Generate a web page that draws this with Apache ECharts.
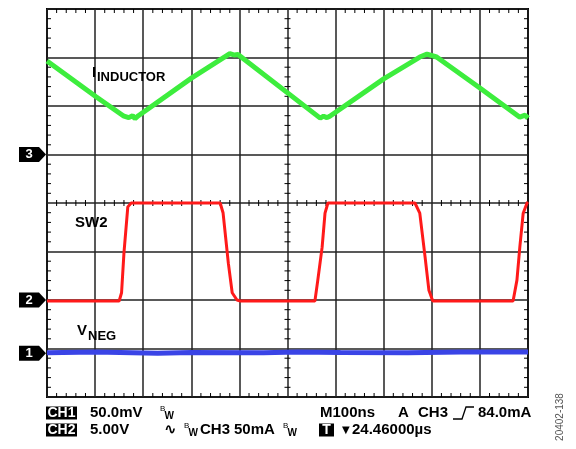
<!DOCTYPE html>
<html><head><meta charset="utf-8">
<script src="https://cdn.jsdelivr.net/npm/echarts@6/dist/echarts.min.js"></script>
<style>html,body{margin:0;padding:0;background:#fff}#c{width:576px;height:449px}</style>
</head><body><div id="c"></div>
<script>
// Time in divisions (M = 100 ns/div), level in divisions from bottom of screen
const xDivs = 10;
const yDivs = 8;
const minorPerDiv = 5;

const inductorT = [0, 1.02, 1.6, 1.7, 1.78, 1.83, 1.9, 3.01, 3.72, 3.8, 3.9, 3.97, 5.68, 5.75, 5.82, 5.88, 7.0, 7.75, 7.9, 8.1, 9.0, 9.83, 9.94, 10];
const inductorV = [6.93, 6.19, 5.79, 5.76, 5.8, 5.74, 5.8, 6.58, 7.03, 7.08, 7.05, 7.06, 5.75, 5.79, 5.76, 5.79, 6.56, 7.01, 7.07, 7.01, 6.37, 5.77, 5.81, 5.75];

const sw2T = [0, 1.5, 1.55, 1.6, 1.68, 1.75, 1.8, 3.6, 3.66, 3.77, 3.85, 3.95, 4.02, 5.57, 5.63, 5.72, 5.78, 5.84, 7.65, 7.75, 7.86, 7.94, 8.02, 9.69, 9.77, 9.83, 9.9, 9.98, 10];
const sw2V = [1.98, 1.98, 2.15, 2.97, 3.92, 4.0, 4.0, 4.0, 3.8, 2.76, 2.15, 2.0, 1.98, 1.98, 2.41, 3.09, 3.79, 4.0, 4.0, 3.79, 2.89, 2.2, 1.98, 1.98, 2.41, 3.09, 3.79, 4.0, 4.02];

const vnegT = [0, 1.0, 2.3, 3.0, 4.5, 5.2, 6.1, 7.5, 8.6, 10];
const vnegV = [0.91, 0.93, 0.9, 0.92, 0.91, 0.93, 0.92, 0.91, 0.93, 0.93];

const markerNames = ['1', '2', '3'];
const markerLevels = [0.9, 2, 5];

// Graticule lines carrying minor ticks: kind 0 = bottom, 1 = top, 2 = centre (crossing)
const hTickLines = [[0, 0], [yDivs, 1], [yDivs / 2, 2]];
const vTickLines = [[0, 0], [xDivs, 1], [xDivs / 2, 2]];

const FONT = '"Liberation Sans", Arial, sans-serif';
const chart = echarts.init(document.getElementById('c'), null, {renderer: 'canvas'});

function pairs(t, v) { return t.map((x, i) => [x, v[i]]); }

// tick items: [x, y, orientation(0 = vertical tick on horizontal line, 1 = horizontal tick), kind]
const tickData = [];
hTickLines.forEach(([yv, kind]) => {
  for (let i = 1; i < xDivs * minorPerDiv; i++) if (i % minorPerDiv) tickData.push([i / minorPerDiv, yv, 0, kind]);
});
vTickLines.forEach(([xv, kind]) => {
  for (let i = 1; i < yDivs * minorPerDiv; i++) if (i % minorPerDiv) tickData.push([xv, i / minorPerDiv, 1, kind]);
});

function renderTick(params, api) {
  const p = api.coord([api.value(0), api.value(1)]);
  const orient = api.value(2), kind = api.value(3);
  const ext = kind === 0 ? [-4, 0] : kind === 1 ? [0, 4] : [-3, 3];
  let shape;
  if (orient === 0) {
    // bottom line: ticks go up; top line: ticks go down
    const e = kind === 0 ? [-4, 0] : kind === 1 ? [0, 4] : [-3, 3];
    shape = {x1: p[0], y1: p[1] + e[0], x2: p[0], y2: p[1] + e[1]};
  } else {
    // left line: ticks go right; right line: ticks go left
    const e = kind === 0 ? [0, 4] : kind === 1 ? [-4, 0] : [-3, 3];
    shape = {x1: p[0] + e[0], y1: p[1], x2: p[0] + e[1], y2: p[1]};
  }
  return {type: 'line', shape: shape, style: {stroke: '#000', lineWidth: 1}};
}

const gridLine = {show: true, lineStyle: {color: '#222', width: 1.5}};
const option = {
  animation: false,
  backgroundColor: '#fff',
  grid: {left: 47, top: 9, width: 481, height: 388, show: true, borderColor: '#000', borderWidth: 2, backgroundColor: 'transparent'},
  xAxis: {type: 'value', min: 0, max: xDivs, interval: 1, axisLabel: {show: false}, axisTick: {show: false}, axisLine: {show: false}, splitLine: gridLine},
  yAxis: {type: 'value', min: 0, max: yDivs, interval: 1, axisLabel: {show: false}, axisTick: {show: false}, axisLine: {show: false}, splitLine: gridLine},
  series: [
    {type: 'custom', name: 'graticule', data: tickData, renderItem: renderTick, silent: true, clip: false, z: 2},
    {type: 'line', name: 'VNEG', data: pairs(vnegT, vnegV), showSymbol: false, lineStyle: {color: '#3a44e6', width: 5}, z: 3},
    {type: 'line', name: 'SW2', data: pairs(sw2T, sw2V), showSymbol: false, lineStyle: {color: '#ff1a1a', width: 3}, z: 4},
    {type: 'line', name: 'IINDUCTOR', data: pairs(inductorT, inductorV), showSymbol: false, lineStyle: {color: '#3ded3d', width: 5}, z: 5}
  ]
};
chart.setOption(option);

const g = [];
markerNames.forEach((n, i) => {
  const y = chart.convertToPixel({yAxisIndex: 0}, markerLevels[i]);
  g.push({type: 'polygon', shape: {points: [[19, y - 7.5], [39, y - 7.5], [46, y], [39, y + 7.5], [19, y + 7.5]]}, style: {fill: '#000'}, z: 10});
  g.push({type: 'text', x: 29, y: y, style: {text: n, font: 'bold 13px ' + FONT, fill: '#fff', align: 'center', verticalAlign: 'middle'}, z: 11});
});
function txt(s, x, y, size, opts) {
  return Object.assign({type: 'text', x: x, y: y, z: 12, style: Object.assign({text: s, font: 'bold ' + size + 'px ' + FONT, fill: '#000', align: 'left', verticalAlign: 'middle'}, opts || {})});
}
// Trace labels
g.push(txt('I', 92, 73, 15));
g.push(txt('INDUCTOR', 97, 77, 13));
g.push(txt('SW2', 75, 223, 15));
g.push(txt('V', 77, 331, 15));
g.push(txt('NEG', 88, 336, 13));
// Bottom readouts
function box(label, x0, x1, yc) {
  g.push({type: 'rect', shape: {x: x0, y: yc - 6.5, width: x1 - x0, height: 13}, style: {fill: '#000'}, z: 12});
  g.push(txt(label, (x0 + x1) / 2, yc + 0.5, 14, {fill: '#fff', align: 'center'}));
}
function bw(x, yc) {
  g.push(txt('B', x, yc - 4, 8, {font: '8px ' + FONT}));
  g.push(txt('W', x + 4.5, yc + 3, 10));
}
const r1 = 413, r2 = 430;
box('CH1', 46, 77, r1);
g.push(txt('50.0mV', 90, r1, 15));
bw(160, r1);
g.push(txt('M100ns', 320, r1, 15));
g.push(txt('A', 398, r1, 15));
g.push(txt('CH3', 418, r1, 15));
g.push({type: 'polyline', shape: {points: [[453, r1 + 6], [462, r1 + 6], [466, r1 - 6], [474, r1 - 6]]}, style: {stroke: '#000', lineWidth: 1.3, fill: null}, z: 12});
g.push(txt('84.0mA', 478, r1, 15));
box('CH2', 46, 77, r2);
g.push(txt('5.00V', 90, r2, 15));
g.push(txt('∿', 164, r2, 15, {font: 'bold 15px "DejaVu Sans", sans-serif'}));
bw(184, r2);
g.push(txt('CH3', 200, r2, 15));
g.push(txt('50mA', 234, r2, 15));
bw(283, r2);
box('T', 319, 334, r2);
g.push(txt('▼', 342, r2, 10, {font: '10px "DejaVu Sans", sans-serif'}));
g.push(txt('24.46000µs', 352, r2, 15));
g.push({type: 'text', x: 560, y: 417, rotation: Math.PI / 2, z: 12, style: {text: '20402-138', font: '10px ' + FONT, fill: '#555', align: 'center', verticalAlign: 'middle'}});
chart.setOption({graphic: {elements: g}});
</script></body></html>
